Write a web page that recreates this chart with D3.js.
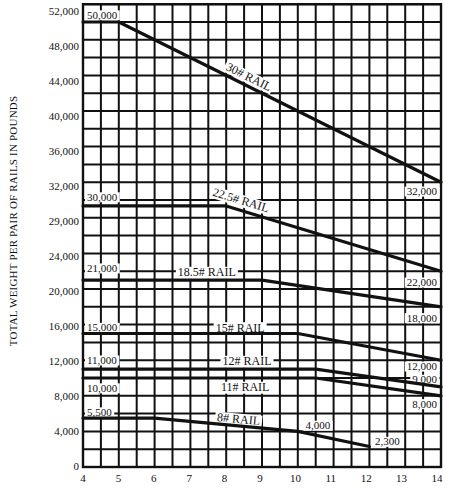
<!DOCTYPE html>
<html><head><meta charset="utf-8">
<script src="https://cdn.jsdelivr.net/npm/d3@7"></script>
<style>
body{margin:0;background:#fff;}
svg{display:block;font-family:"Liberation Serif","Times New Roman",serif;}
</style></head><body>
<svg id="c" width="449" height="490"></svg>
<script>
// ---- data ----
const yTickValues = [0,4000,8000,12000,16000,20000,24000,29000,32000,36000,40000,44000,48000,52000];
const yTickLabels = ["0","4,000","8,000","12,000","16,000","20,000","24,000","29,000","32,000","36,000","40,000","44,000","48,000","52,000"];
const xTickValues = [4,5,6,7,8,9,10,11,12,13,14];
const yTitle = "TOTAL WEIGHT PER PAIR OF RAILS IN POUNDS";

const railNames = ["30# RAIL","22.5# RAIL","18.5# RAIL","15# RAIL","12# RAIL","11# RAIL","8# RAIL"];
const rail30  = [[4,50000],[5,50000],[14,32000]];
const rail225 = [[4,30000],[8,30000],[14,22000]];
const rail185 = [[4,21000],[9,21000],[14,18000]];
const rail15  = [[4,15000],[10,15000],[14,12000]];
const rail12  = [[4,11000],[10.5,11000],[14,9000]];
const rail11  = [[4,10000],[10.5,10000],[14,8000]];
const rail8   = [[4,5500],[6,5500],[10,4000],[12,2300]];
const startLabels = ["50,000","30,000","21,000","15,000","11,000","10,000","5,500"];
const endLabels = [["32,000"],["22,000"],["18,000"],["12,000"],["9,000"],["8,000"],["4,000","2,300"]];
const railSeries = [rail30, rail225, rail185, rail15, rail12, rail11, rail8];

// ---- layout (pixels) ----
const startDy = [-7,-9,-12,-6,-9,10,-6];
const nameAnchorX = [8.525, 8.33, 7.46, 8.39, 8.58, 8.53, 8.33];
const nameDy = [-9,-10,-8,-6,-8,9,-7];
// per end label: [point index, dx, dy, anchor]
const endLayout = [
  [[2,-4,9,"end"]],[[2,-4,11,"end"]],[[2,-4,11,"end"]],[[2,-4,6,"end"]],
  [[2,-4,-7.5,"end"]],[[2,-4,8,"end"]],[[2,20,-6,"middle"],[3,18,-5,"middle"]]
];

const L=83, R=441, T=4.2, B=467;
const ink = "#111";
const svg = d3.select("#c");

const x = d3.scaleLinear().domain([4,14]).range([L,R]);
const yIdx = d3.scaleLinear().domain([0, yTickValues.length-1]).range([B,T]);
const y = d3.scaleLinear().domain(yTickValues).range(yTickValues.map((d,i)=>yIdx(i)));

// grid
const grid = svg.append("g").attr("stroke",ink).attr("stroke-width",2);
grid.selectAll("line.v").data(d3.range(4,14.001,0.5)).join("line")
  .attr("x1",d=>x(d)).attr("x2",d=>x(d)).attr("y1",T).attr("y2",B);
grid.selectAll("line.h").data(d3.range(0,yTickValues.length-1+0.001,0.5)).join("line")
  .attr("class","h").attr("x1",L).attr("x2",R).attr("y1",d=>yIdx(d)).attr("y2",d=>yIdx(d));
svg.append("rect").attr("x",L).attr("y",T).attr("width",R-L).attr("height",B-T)
  .attr("fill","none").attr("stroke",ink).attr("stroke-width",2.4);

// y ticks
const tickOff = d3.scaleLinear().domain([0,yTickValues.length-1]).range([-1,7]);
svg.append("g").selectAll("text").data(yTickValues).join("text")
  .attr("x",79).attr("y",(d,i)=>y(d)+tickOff(i)).attr("dy","0.35em")
  .attr("text-anchor","end").attr("font-size",11).attr("fill",ink)
  .text((d,i)=>yTickLabels[i]);

// x ticks
const xOff = d3.scaleLinear().domain([4,14]).range([0,-4]);
svg.append("g").selectAll("text").data(xTickValues).join("text")
  .attr("x",d=>x(d)+xOff(d)).attr("y",478).attr("dy","0.35em")
  .attr("text-anchor","middle").attr("font-size",11).attr("fill",ink)
  .text(d=>d);

// y title
svg.append("text").attr("transform","translate(13,221) rotate(-90)")
  .attr("text-anchor","middle").attr("dy","0.35em").attr("font-size",11)
  .attr("letter-spacing",0.2).attr("fill",ink).text(yTitle);

// labels with white boxes
const labG = svg.append("g");
function boxed(txt, px, py, anchor, size, rot, dy){
  const g = labG.append("g").attr("transform",`translate(${px},${py}) rotate(${rot||0})`);
  const r = g.append("rect").attr("fill","#fff");
  const t = g.append("text").attr("x",0).attr("y",dy||0).attr("dy","0.35em")
    .attr("text-anchor",anchor).attr("font-size",size).attr("fill",ink).text(txt);
  const bb = t.node().getBBox();
  r.attr("x",bb.x-2).attr("y",bb.y+1.5).attr("width",bb.width+4).attr("height",bb.height-2);
}
function lineYAt(pts, xv){
  for(let i=0;i<pts.length-1;i++){
    if(xv>=pts[i][0] && xv<=pts[i+1][0]){
      const t=(xv-pts[i][0])/(pts[i+1][0]-pts[i][0]);
      const y0=y(pts[i][1]), y1=y(pts[i+1][1]);
      const ang=Math.atan2(y1-y0, x(pts[i+1][0])-x(pts[i][0]))*180/Math.PI;
      return [y0+(y1-y0)*t, ang];
    }
  }
  return [y(pts[pts.length-1][1]),0];
}
railSeries.forEach((pts,i)=>{
  boxed(startLabels[i], 87, y(pts[0][1])+startDy[i], "start", 11, 0, 0);
  const [ly, ang] = lineYAt(pts, nameAnchorX[i]);
  boxed(railNames[i], x(nameAnchorX[i]), ly, "middle", 12, ang, nameDy[i]);
  endLabels[i].forEach((lab,j)=>{
    const [pi,dx,dy,anc] = endLayout[i][j];
    const p = pts[pi];
    boxed(lab, x(p[0])+dx, y(p[1])+dy, anc, 11, 0, 0);
  });
});

// rail lines
const line = d3.line().x(d=>x(d[0])).y(d=>y(d[1]));
svg.append("g").selectAll("path").data(railSeries).join("path")
  .attr("d",line).attr("fill","none").attr("stroke",ink)
  .attr("stroke-width",3.2).attr("stroke-linejoin","round").attr("stroke-linecap","round");
</script>
</body></html>
